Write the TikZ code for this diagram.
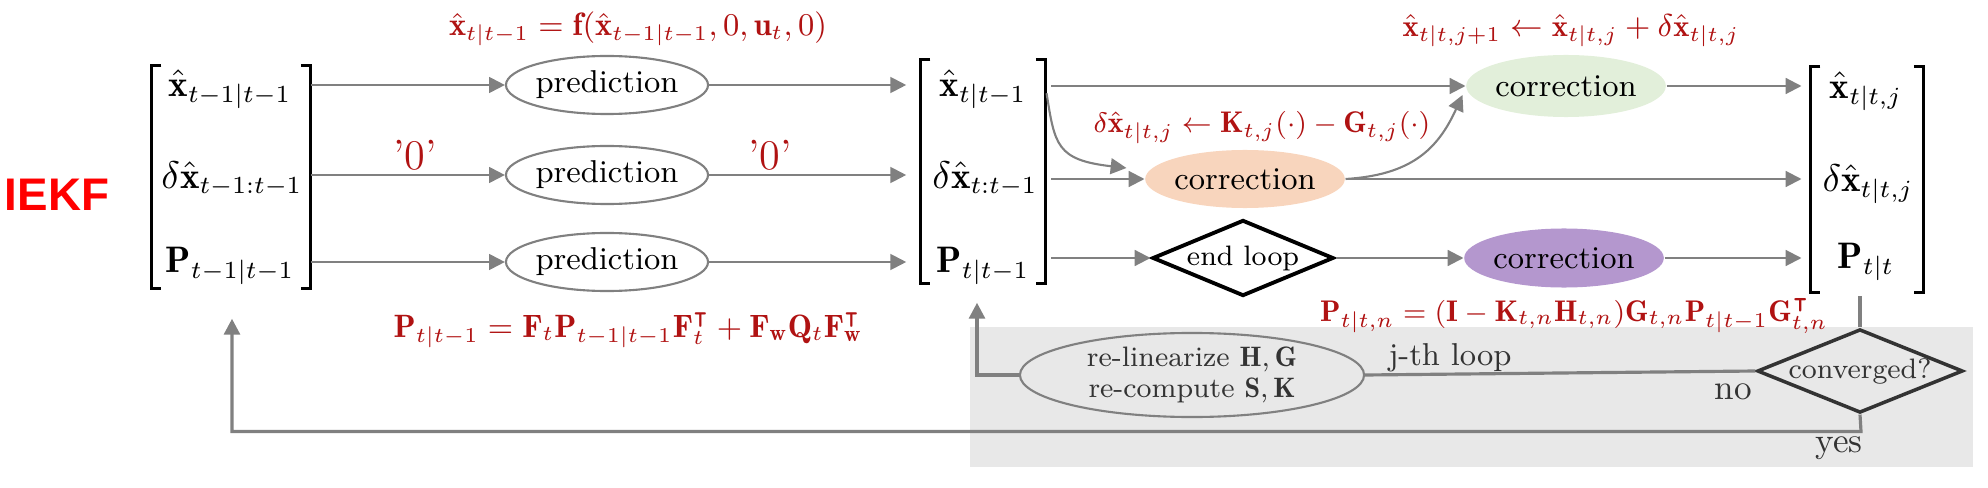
\documentclass[tikz,border=0pt]{standalone}
\usepackage{amsmath,amssymb}
\usepackage{fontspec}
\newfontfamily\headfont{Liberation Sans}
\usetikzlibrary{arrows.meta,shapes.geometric,calc}
\definecolor{arrgray}{HTML}{808080}
\definecolor{redtxt}{HTML}{B01212}
\definecolor{bandgray}{HTML}{E8E8E8}
\definecolor{greenfill}{HTML}{E2EFDA}
\definecolor{orangefill}{HTML}{F8D5BD}
\definecolor{purplefill}{HTML}{B497CE}
\definecolor{iekfred}{HTML}{FF0000}
\definecolor{darktxt}{HTML}{333333}
\begin{document}
\begin{tikzpicture}[x=0.01cm,y=-0.01cm,
  arr/.style={draw=arrgray, line width=0.6pt, -{Triangle[length=4.5pt,width=4.5pt]}},
  plainline/.style={draw=arrgray, line width=0.6pt},
  loopline/.style={draw=arrgray, line width=0.9pt},
  predict/.style={ellipse, draw=arrgray, line width=0.6pt, minimum width=1.78cm, minimum height=0.58cm, inner sep=0pt, font=\fontsize{9}{11}\selectfont},
  corrbox/.style={ellipse, draw=none, inner sep=0pt, font=\fontsize{9}{11}\selectfont},
  entry/.style={inner sep=0pt, font=\fontsize{10.5}{12.5}\selectfont},
  matbox/.style={draw=none, inner sep=0pt},
  bracketline/.style={draw=black, line width=0.9pt},
  redf/.style={inner sep=0pt, text=redtxt, font=\fontsize{9.2}{11}\selectfont},
  redsmall/.style={inner sep=0pt, text=redtxt, font=\fontsize{8.5}{10}\selectfont},
  zerolbl/.style={inner sep=0pt, text=redtxt, font=\fontsize{12}{14}\selectfont},
  lbl/.style={inner sep=0pt, text=darktxt, font=\fontsize{9}{11}\selectfont},
  bigdiamond/.style={diamond, inner sep=0pt, font=\fontsize{8}{10}\selectfont}
]
\useasboundingbox (0,0) rectangle (1988,488);
% background band
\fill[bandgray] (970,327) rectangle (1973,467);

% title
\node[inner sep=0pt, text=iekfred, font=\headfont\bfseries\fontsize{13}{15}\selectfont] (iekf) at (57,195) {IEKF};

% left matrix
\node[matbox, minimum width=1.58cm, minimum height=2.22cm] (L) at (231,177) {};
\node[entry] (l1) at (230,89) {$\hat{\mathbf{x}}_{t-1|t-1}$};
\node[entry] (l2) at (232,179) {$\delta\hat{\mathbf{x}}_{t-1:t-1}$};
\node[entry] (l3) at (230,266) {$\mathbf{P}_{t-1|t-1}$};
\draw[bracketline] ($(L.north west)+(10,0)$) -- (L.north west) -- (L.south west) -- ++(10,0);
\draw[bracketline] ($(L.north east)+(-10,0)$) -- (L.north east) -- (L.south east) -- ++(-10,0);

% predictions
\node[predict] (p1) at (607,85) {prediction};
\node[predict] (p2) at (607,175) {prediction};
\node[predict] (p3) at (607,262) {prediction};

% middle matrix
\node[matbox, minimum width=1.24cm, minimum height=2.23cm] (M) at (983,171.5) {};
\node[entry] (m1) at (983,89) {$\hat{\mathbf{x}}_{t|t-1}$};
\node[entry] (m2) at (985,179) {$\delta\hat{\mathbf{x}}_{t:t-1}$};
\node[entry] (m3) at (983,266) {$\mathbf{P}_{t|t-1}$};
\draw[bracketline] ($(M.north west)+(10,0)$) -- (M.north west) -- (M.south west) -- ++(10,0);
\draw[bracketline] ($(M.north east)+(-10,0)$) -- (M.north east) -- (M.south east) -- ++(-10,0);

% corrections
\node[corrbox, fill=greenfill, minimum width=1.70cm, minimum height=0.62cm] (G) at (1566,86) {correction};
\node[corrbox, fill=orangefill, minimum width=1.76cm, minimum height=0.58cm] (O) at (1245,179) {correction};
\node[bigdiamond, aspect=2.4, draw=black, line width=1.1pt, minimum width=1.81cm, minimum height=0.76cm] (E) at (1243,258) {end loop};
\node[corrbox, fill=purplefill, minimum width=1.74cm, minimum height=0.59cm] (Pu) at (1564,258) {correction};

% right matrix
\node[matbox, minimum width=1.12cm, minimum height=2.25cm] (R) at (1867,179.5) {};
\node[entry] (r1) at (1866,91) {$\hat{\mathbf{x}}_{t|t,j}$};
\node[entry] (r2) at (1868,184) {$\delta\hat{\mathbf{x}}_{t|t,j}$};
\node[entry] (r3) at (1866,262) {$\mathbf{P}_{t|t}$};
\draw[bracketline] ($(R.north west)+(10,0)$) -- (R.north west) -- (R.south west) -- ++(10,0);
\draw[bracketline] ($(R.north east)+(-10,0)$) -- (R.north east) -- (R.south east) -- ++(-10,0);

% loop part
\node[bigdiamond, aspect=2.46, draw=darktxt, line width=1.0pt, minimum width=1.97cm, minimum height=0.80cm, text=darktxt] (C) at (1860,371) {converged?};
\node[ellipse, draw=arrgray, line width=0.6pt, fill=bandgray, minimum width=3.44cm, minimum height=0.84cm, inner sep=0pt, align=center, text=darktxt, font=\fontsize{8}{8.8}\selectfont] (Rl) at (1192,375) {re-linearize $\mathbf{H},\mathbf{G}$\\re-compute $\mathbf{S},\mathbf{K}$};

% red formulas
\node[redf] (f1) at (638,29) {$\hat{\mathbf{x}}_{t|t-1}=\mathbf{f}(\hat{\mathbf{x}}_{t-1|t-1},0,\mathbf{u}_t,0)$};
\node[redf] (f2) at (628,330) {$\mathbf{P}_{t|t-1}=\mathbf{F}_t\mathbf{P}_{t-1|t-1}\mathbf{F}_t^{\intercal}+\mathbf{F}_{\mathbf{w}}\mathbf{Q}_t\mathbf{F}_{\mathbf{w}}^{\intercal}$};
\node[redsmall] (f3) at (1262,128) {$\delta\hat{\mathbf{x}}_{t|t,j}\leftarrow\mathbf{K}_{t,j}(\cdot)-\mathbf{G}_{t,j}(\cdot)$};
\node[redsmall, font=\fontsize{8.7}{10}\selectfont] (f4) at (1571,31) {$\hat{\mathbf{x}}_{t|t,j+1}\leftarrow\hat{\mathbf{x}}_{t|t,j}+\delta\hat{\mathbf{x}}_{t|t,j}$};
\node[redsmall] (f5) at (1574,316) {$\mathbf{P}_{t|t,n}=(\mathbf{I}-\mathbf{K}_{t,n}\mathbf{H}_{t,n})\mathbf{G}_{t,n}\mathbf{P}_{t|t-1}\mathbf{G}_{t,n}^{\intercal}$};
\node[zerolbl] (z1) at (415,155) {'0'};
\node[zerolbl] (z2) at (770,155) {'0'};

% labels
\node[lbl] (jth) at (1450,358) {j-th loop};
\node[lbl, font=\fontsize{10}{12}\selectfont] (no) at (1733,392) {no};
\node[lbl, font=\fontsize{10}{12}\selectfont] (yes) at (1839,448) {yes};

% arrows left -> predictions
\draw[arr] (L.east |- p1) -- (p1);
\draw[arr] (L.east |- p2) -- (p2);
\draw[arr] (L.east |- p3) -- (p3);
% predictions -> middle
\draw[arr, shorten >=4pt] (p1) -- (M.west |- p1);
\draw[arr, shorten >=4pt] (p2) -- (M.west |- p2);
\draw[arr, shorten >=4pt] (p3) -- (M.west |- p3);

% middle -> corrections
\draw[arr, shorten <=1.5pt] (M.east |- G) -- (G);
\draw[arr, shorten <=1.5pt] ($(M.east |- G)+(0,2)$) .. controls +(9,57) and +(-70,-8) .. ($(O.west)+(-18,-11)$);
\draw[arr, shorten <=1.5pt] (M.east |- O) -- (O);
\draw[arr, shorten <=1.5pt] (M.east |- E) -- (E);
\draw[arr] (O.east) .. controls +(65,-4) and +(-25,55) .. ($(G.west)+(-3,9)$);
\draw[arr] (E) -- (Pu);

% corrections -> right matrix
\draw[arr, shorten >=2.5pt] (G) -- (R.west |- G);
\draw[arr, shorten >=2.5pt] (O.east) -- (R.west |- O);
\draw[arr, shorten >=2.5pt] (Pu) -- (R.west |- Pu);

% loop
\draw[loopline, shorten <=1pt] (C.north |- R.south) -- (C.north);
\draw[loopline] (C.west) -- (Rl.east);
\draw[arr, line width=0.9pt] (Rl.west) -| ($(M.south)+(-6,19)$);
\draw[arr, line width=0.9pt] (C.south) -- ++(1,17) -| ($(L.south)+(1,30)$);
\end{tikzpicture}
\end{document}
